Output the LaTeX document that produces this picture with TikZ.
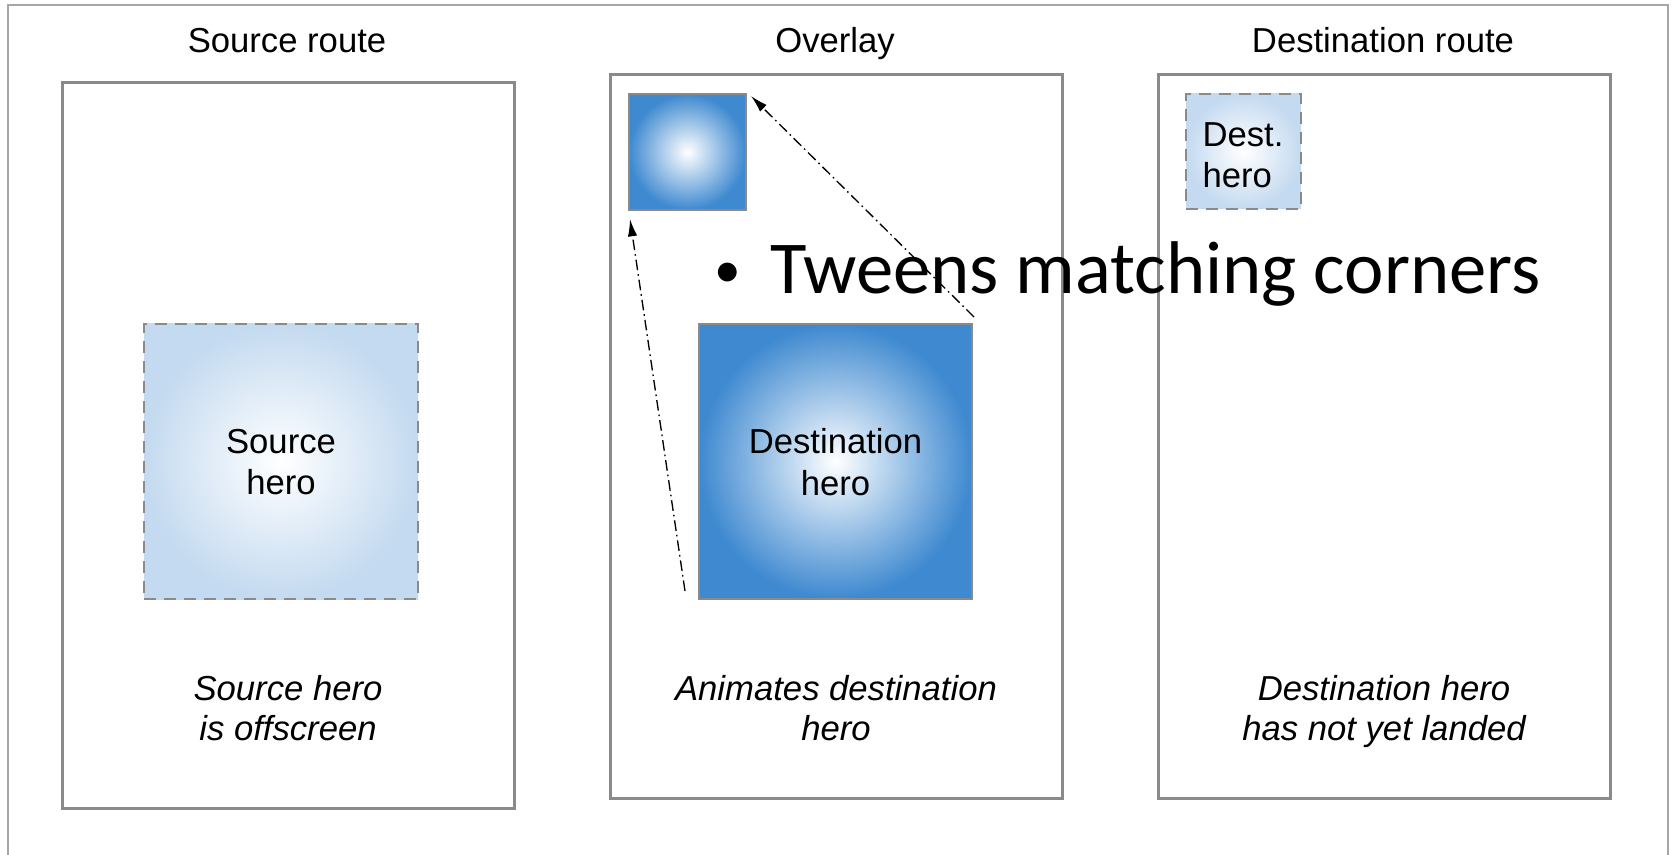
\documentclass[tikz,border=0pt]{standalone}
\usepackage{fontspec}
\setmainfont{Liberation Sans}
\newfontfamily\slidefont{Carlito}
\usetikzlibrary{arrows.meta}

\definecolor{framegray}{RGB}{138,138,138}
\definecolor{outergray}{RGB}{166,166,166}
\definecolor{heroblue}{RGB}{62,137,208}
\definecolor{paleblue}{RGB}{196,218,240}

\tikzset{every picture/.style={line width=0.75pt}}
\tikzset{
  routebox/.style={draw=framegray, line width=2.25pt, minimum width=339pt, inner sep=0pt},
  herobox/.style={draw=framegray, line width=2pt, inner sep=0pt, shading=radial, inner color=white, outer color=heroblue},
  ghostbox/.style={draw=framegray, line width=2pt, dash pattern=on 9pt off 6pt, inner sep=0pt, shading=radial, inner color=white, outer color=paleblue},
  herotext/.style={font=\fontsize{26}{31}\selectfont, align=center},
  titletext/.style={font=\fontsize{26}{31}\selectfont, anchor=base},
  captext/.style={font=\fontsize{26}{30}\selectfont\itshape, align=center, anchor=base},
  tween/.style={draw, line width=1pt, dash pattern=on 8pt off 3pt on 1.2pt off 3pt, -{Latex[length=13pt,width=7pt]}}
}

\begin{document}
\begin{tikzpicture}[x=0.75pt,y=0.75pt,yscale=-1,xscale=1]
	\useasboundingbox (0,0) rectangle (1675,855);

	%Shape: Outer frame [id:outer]
	\draw [outergray, line width=1.2pt]  (8,855) -- (8,5) -- (1668,5) -- (1668,855) ;

	%Shape: Rectangle [id:srcroute]
	\node [routebox, minimum height=543.75pt] (srcroute) at (288,445.5) {};
	%Shape: Rectangle [id:overlay]
	\node [routebox, minimum height=542.25pt] (overlay) at (836,436.5) {};
	%Shape: Rectangle [id:dstroute]
	\node [routebox, minimum height=542.25pt] (dstroute) at (1384,436.5) {};

	%Shape: Square [id:srchero]
	\node [ghostbox, minimum width=205.5pt, minimum height=206.25pt] (srchero) at (281,461.5) {};
	%Shape: Square [id:tweenhero]
	\node [herobox, minimum width=87.75pt, minimum height=87pt] (tweenhero) at (687.5,152) {};
	%Shape: Square [id:desthero]
	\node [herobox, minimum width=204.75pt, minimum height=206.25pt] (desthero) at (835.5,461.5) {};
	%Shape: Square [id:destsmall]
	\node [ghostbox, minimum width=86.25pt, minimum height=86.25pt] (destsmall) at (1243.5,151.5) {};

	%Straight Lines [id:tweenleft]
	\coordinate (leftstart) at (685,591) ;
	\coordinate (leftend) at (630,219) ;
	\draw [tween]  (leftstart) -- (leftend) ;
	%Straight Lines [id:tweenright]
	\coordinate (rightstart) at (974,317) ;
	\coordinate (rightend) at (751,96) ;
	\draw [tween]  (rightstart) -- (rightend) ;

	% Text Node
	\node [titletext] (srctitle) at (287,53) {Source route};
	% Text Node
	\node [titletext] (ovltitle) at (835,53) {Overlay};
	% Text Node
	\node [titletext] (dsttitle) at (1383,53) {Destination route};

	% Text Node
	\node [herotext] (srclabel) at (281,462) {Source\\hero};
	% Text Node
	\node [herotext] (destlabel) at (835.5,462) {Destination\\hero};
	% Text Node
	\node [herotext, align=left, anchor=west, inner sep=0pt] (smalllabel) at (1202,155) {Dest.\\hero};

	% Text Node
	\node [captext] (srccap) at (288,740) {Source hero\\is offscreen};
	% Text Node
	\node [captext] (ovlcap) at (836,740) {Animates destination\\hero};
	% Text Node
	\node [captext] (dstcap) at (1384,740) {Destination hero\\has not yet landed};

	% Text Node
	\node [anchor=base west, inner sep=0pt, font=\slidefont\fontsize{56}{60}\selectfont] (tweens) at (714,294) {\raisebox{5pt}{\fontsize{40}{40}\selectfont•}\hspace{22pt}Tweens matching corners};

\end{tikzpicture}
\end{document}
